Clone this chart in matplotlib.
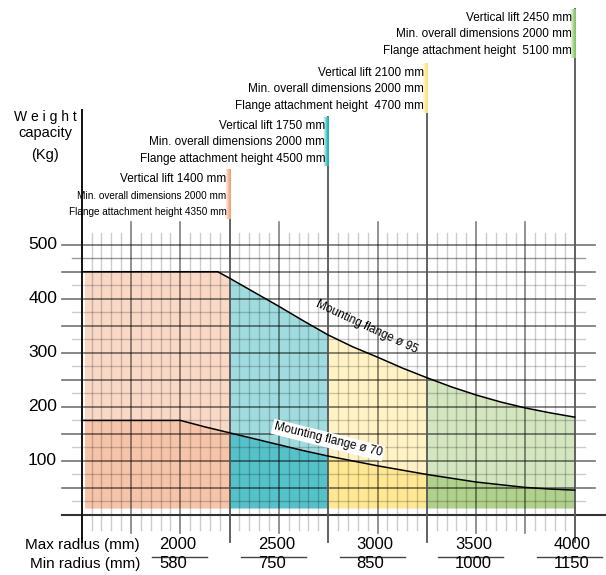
import numpy as np
import matplotlib.pyplot as plt
from matplotlib.patches import Rectangle
from matplotlib.colors import LinearSegmentedColormap

plt.rcParams['font.family'] = ['Liberation Sans', 'DejaVu Sans']

# load curves (kg vs max radius mm)
upper_x = [1500, 2190, 2250, 2375, 2500, 2625, 2750, 2875, 3000, 3125, 3250, 3375, 3500, 3625, 3750, 3875, 4000]
upper_y = [450, 450, 438, 412, 386, 359, 333, 311, 292, 272, 254, 237, 222, 209, 198, 189, 181]
lower_x = [1500, 2000, 2125, 2250, 2375, 2500, 2625, 2750, 2875, 3000, 3125, 3250, 3375, 3500, 3625, 3750, 3875, 4000]
lower_y = [175, 175, 163, 152, 141, 130, 119, 109, 100, 91, 83, 75, 68, 61, 56, 51, 48, 46]
fill_bottom = 12

# zones / machine versions
zone_edges = [1500, 2250, 2750, 3250, 4000]
zone_light = ['#f9d8c6', '#a0dcdf', '#fff3c5', '#d3e6bf']
zone_dark = ['#f6c4a9', '#55c1c8', '#fee894', '#afd18c']
zone_bar = ['#f2a481', '#25b2bc', '#fde277', '#8cc46a']
vertical_lift = [1400, 1750, 2100, 2450]
min_dims = [2000, 2000, 2000, 2000]
flange_height = [4350, 4500, 4700, 5100]

max_radius = [2000, 2500, 3000, 3500, 4000]
min_radius = [580, 750, 850, 1000, 1150]
y_ticks = [100, 200, 300, 400, 500]


# pixel helpers for layout (axes fills the whole figure)
def mm(px):
    return 1500 + (px - 81.7) / 0.1972


def kg(py):
    return (515 - py) / 0.5406


fig = plt.figure(figsize=(6.06, 5.75), dpi=100)
ax = fig.add_axes([0, 0, 1, 1])
ax.axis('off')

# coloured zones
poly_x = upper_x + lower_x[::-1]
poly_y = upper_y + lower_y[::-1]
low_x = lower_x + [lower_x[-1], lower_x[0]]
low_y = lower_y + [fill_bottom, fill_bottom]
for i in range(4):
    x0 = zone_edges[i] if i > 0 else mm(85)
    x1 = zone_edges[i + 1]
    for xs, ys, c in [(poly_x, poly_y, zone_light[i]), (low_x, low_y, zone_dark[i])]:
        p = ax.fill(xs, ys, color=c, lw=0, zorder=1)[0]
        clip = Rectangle((x0, -100), x1 - x0, 800, transform=ax.transData)
        p.set_clip_path(clip)

# grid - horizontal
for v in range(25, 525, 25):
    if v % 50 == 0:
        ax.plot([mm(62), mm(595)], [v, v], color='k', alpha=0.55, lw=1.2, zorder=2)
    else:
        a = 0.4 if v == 475 else 0.2
        ax.plot([mm(72), mm(585)], [v, v], color='k', alpha=a, lw=1.0, zorder=2)
ax.plot([mm(62), mm(606)], [0, 0], color='#333333', lw=1.5, zorder=3)

# grid - vertical
for x in range(1550, 4000, 50):
    if x % 250 != 0:
        ax.plot([x, x], [kg(530), kg(233)], color='k', alpha=0.2, lw=1.0, zorder=2)
for x in range(1750, 4000, 250):
    if x not in zone_edges:
        ax.plot([x, x], [kg(533), kg(222)], color='k', alpha=0.5, lw=1.2, zorder=2)
ax.plot([1500, 1500], [kg(542), kg(110)], color='#111111', lw=1.4, zorder=3)

# load curves
ax.plot(upper_x, upper_y, color='k', lw=1.1, zorder=4)
ax.plot(lower_x, lower_y, color='k', lw=1.1, zorder=4)
ax.text(mm(367), kg(327), 'Mounting flange ø 95', fontsize=8.5, rotation=-25,
        ha='center', va='center', rotation_mode='anchor', zorder=5)
ax.text(mm(328), kg(440), 'Mounting flange ø 70', fontsize=8.5, rotation=-14,
        ha='center', va='center', rotation_mode='anchor', zorder=5,
        bbox=dict(facecolor='white', edgecolor='none', pad=1.2))

# version labels above the chart
block_top = [182, 128.7, 75.5, 20.7]
gap = [' ', ' ', '  ', '  ']
for i in range(4):
    xe = zone_edges[i + 1]
    xp = 81.7 + (xe - 1500) * 0.1972
    b0 = block_top[i]
    lines = ['Vertical lift %d mm' % vertical_lift[i],
             'Min. overall dimensions %d mm' % min_dims[i],
             'Flange attachment height%s%d mm' % (gap[i], flange_height[i])]
    for j, s in enumerate(lines):
        fs = 7.2 if (i == 0 and j > 0) else 8.5
        ax.text(mm(xp - 3), kg(b0 + 16.5 * j), s, fontsize=fs,
                ha='right', va='baseline', zorder=5)
    top = b0 - 12
    bot = b0 + 16.5 * 2 + 4
    cmap = LinearSegmentedColormap.from_list('bar%d' % i, ['white', zone_bar[i]])
    ax.imshow([[0.0, 0.5, 1.0]], extent=[mm(xp - 6), mm(xp + 0.5), kg(bot), kg(top)],
              cmap=cmap, aspect='auto', interpolation='bilinear', zorder=4)
    ax.plot([xe, xe], [kg(542), kg(top)], color='#555555', lw=1.3, zorder=3)

# y axis
for v in y_ticks:
    ax.text(mm(57), v, str(v), fontsize=12.5, ha='right', va='center')
ax.text(mm(45), kg(121), 'W e i g h t', fontsize=10, ha='center', va='baseline')
ax.text(mm(45), kg(137), 'capacity', fontsize=10.5, ha='center', va='baseline')
ax.text(mm(45), kg(159), '(Kg)', fontsize=10.5, ha='center', va='baseline')

# x axis labels
ax.text(mm(140), kg(549), 'Max radius (mm)', fontsize=11, ha='right', va='baseline')
ax.text(mm(140), kg(568), 'Min radius (mm)', fontsize=11, ha='right', va='baseline')
bar_left = [28, 38, 38, 38, 38]
for i in range(5):
    xp = 81.7 + (max_radius[i] - 1500) * 0.1972
    ax.text(mm(xp - 21), kg(549), str(max_radius[i]), fontsize=12, ha='left', va='baseline')
    ax.text(mm(xp - 21), kg(568), str(min_radius[i]), fontsize=12, ha='left', va='baseline')
    ax.plot([mm(xp - bar_left[i]), mm(xp + 27)], [kg(557), kg(557)], color='#444444', lw=1)

ax.set_xlim(mm(0), mm(606))
ax.set_ylim(kg(575), kg(0))
fig.savefig('out.png', dpi=100)
